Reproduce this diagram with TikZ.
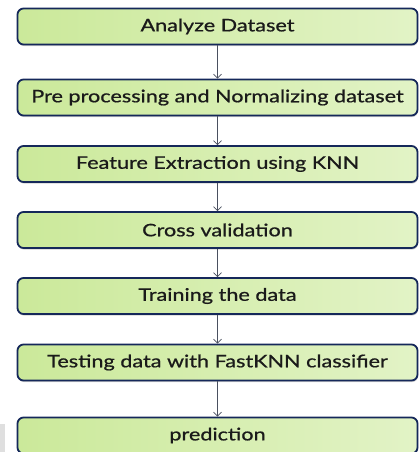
\documentclass[tikz,border=0pt]{standalone}
\usepackage{fontspec}
\setmainfont{Lato}[FakeStretch=1.25,FakeBold=0.8]
\usetikzlibrary{arrows.meta,shadows}
\definecolor{boxL}{HTML}{CBE99A}
\definecolor{boxR}{HTML}{E2F3C6}
\definecolor{boxB}{HTML}{15285A}
\definecolor{arr}{HTML}{4A5060}
\definecolor{txt}{HTML}{1A1A1A}
\tikzset{
  stepbox/.style={draw=boxB, line width=1.8pt, rounded corners=6pt, left color=boxL, right color=boxR,
    minimum width=400pt, minimum height=36pt, inner sep=0pt, text=txt, font=\fontsize{17.3}{18}\selectfont,
    drop shadow={shadow xshift=0.6pt, shadow yshift=-1.6pt, opacity=0.35}},
  flow/.style={draw=arr, line width=0.8pt, -{Straight Barb[length=4pt,width=8pt,line width=0.7pt]}}
}
\begin{document}
\begin{tikzpicture}[x=1pt,y=-1pt]
\useasboundingbox (0,0) rectangle (419,452);
\fill[gray!25] (0,424) rectangle (5,452);
\node[stepbox] (a) at (217.5,26.5) {Analyze Dataset};
\node[stepbox] (b) at (217.5,97.5) {Pre processing and Normalizing dataset};
\node[stepbox] (c) at (217.5,164) {Feature Extraction using KNN};
\node[stepbox] (d) at (217.5,230) {Cross validation};
\node[stepbox] (e) at (217.5,296) {Training the data};
\node[stepbox] (f) at (217.5,362.5) {Testing data with FastKNN classifier};
\node[stepbox] (g) at (217.5,435.5) {prediction};
\foreach \u/\v in {a/b,b/c,c/d,d/e,e/f,f/g}
  \draw[flow] (\u.south) -- (\v.north);
\end{tikzpicture}
\end{document}
